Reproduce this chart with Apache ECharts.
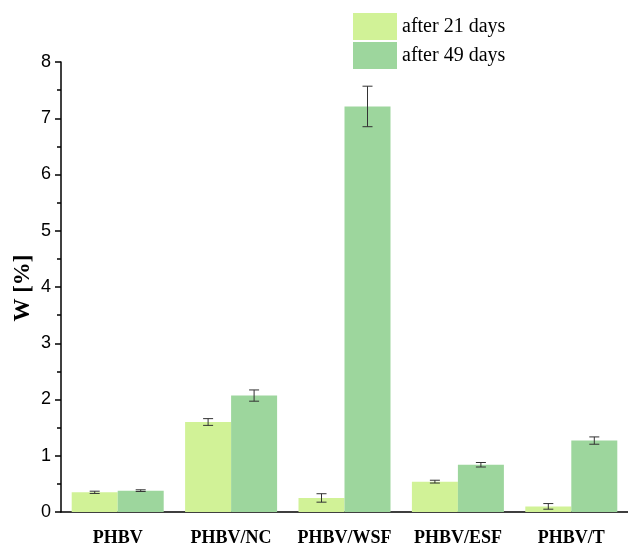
<!DOCTYPE html>
<html><head><meta charset="utf-8">
<script src="https://cdn.jsdelivr.net/npm/echarts@6/dist/echarts.min.js"></script>
<style>html,body{margin:0;padding:0;background:#fff}#c{width:628px;height:547px}</style>
</head><body><div id="c"></div>
<script>
const categories = ['PHBV', 'PHBV/NC', 'PHBV/WSF', 'PHBV/ESF', 'PHBV/T'];
const seriesNames = ['after 21 days', 'after 49 days'];
const days21 = [0.35, 1.60, 0.25, 0.54, 0.10];
const days21Err = [0.02, 0.06, 0.075, 0.025, 0.05];
const days49 = [0.38, 2.07, 7.21, 0.84, 1.27];
const days49Err = [0.015, 0.1, 0.36, 0.04, 0.065];
const yTicks = [0, 1, 2, 3, 4, 5, 6, 7, 8];
const yTitle = 'W [%]';

const BAR_W = 46;
const colors = ['#d1f297', '#9dd69d'];

function errSeries(vals, errs, side) {
  return {
    type: 'custom',
    silent: true,
    z: 5,
    data: vals.map((v, i) => [i, v, errs[i]]),
    renderItem: function (params, api) {
      const i = api.value(0), v = api.value(1), e = api.value(2);
      const off = side * BAR_W / 2;
      const top = api.coord([i, v + e]);
      const bot = api.coord([i, v - e]);
      const x = top[0] + off;
      const hw = 5;
      const st = { stroke: '#333', lineWidth: 1 };
      return { type: 'group', children: [
        { type: 'line', shape: { x1: x, y1: top[1], x2: x, y2: bot[1] }, style: st },
        { type: 'line', shape: { x1: x - hw, y1: top[1], x2: x + hw, y2: top[1] }, style: st },
        { type: 'line', shape: { x1: x - hw, y1: bot[1], x2: x + hw, y2: bot[1] }, style: st }
      ]};
    }
  };
}

const chart = echarts.init(document.getElementById('c'));
chart.setOption({
  animation: false,
  grid: { left: 61, right: -2, top: 62, bottom: 32, containLabel: false },
  legend: {
    orient: 'vertical', left: 353, top: 13, padding: 0, itemWidth: 44, itemHeight: 27, itemGap: 2,
    icon: 'rect', data: seriesNames,
    textStyle: { fontFamily: 'Liberation Serif', fontSize: 20, color: '#000' }
  },
  graphic: [{
    type: 'text', x: 23, y: 288, rotation: Math.PI / 2,
    style: { text: yTitle, font: 'bold 23px "Liberation Serif"', fill: '#000', align: 'center', verticalAlign: 'middle' }
  }],
  xAxis: [{
    type: 'category', data: categories,
    axisLine: { lineStyle: { color: '#000', width: 1.5 } },
    axisTick: { alignWithLabel: true, length: 9, lineStyle: { color: '#000', width: 1.5 } },
    axisLabel: { interval: 0, fontFamily: 'Liberation Serif', fontWeight: 'bold', fontSize: 18, color: '#000', margin: 17 }
  }, {
    type: 'category', data: categories, position: 'bottom',
    axisLine: { show: false },
    axisTick: { length: 4, lineStyle: { color: '#000', width: 1.5 } },
    axisLabel: { show: false }
  }],
  yAxis: {
    type: 'value', min: yTicks[0], max: yTicks[yTicks.length - 1], interval: 1,
    axisLine: { show: true, lineStyle: { color: '#000', width: 1.5 } },
    axisTick: { show: true, inside: false, length: 6, lineStyle: { color: '#000', width: 1.5 } },
    minorTick: { show: true, splitNumber: 2, length: 4, lineStyle: { color: '#000', width: 1.5 } },
    splitLine: { show: false },
    axisLabel: { fontFamily: 'Liberation Sans', fontSize: 18, color: '#000', margin: 10 }
  },
  series: [
    { name: seriesNames[0], type: 'bar', data: days21, barWidth: BAR_W, barGap: '0%', itemStyle: { color: colors[0] } },
    { name: seriesNames[1], type: 'bar', data: days49, barWidth: BAR_W, barGap: '0%', itemStyle: { color: colors[1] } },
    errSeries(days21, days21Err, -1),
    errSeries(days49, days49Err, 1)
  ]
});
</script></body></html>
